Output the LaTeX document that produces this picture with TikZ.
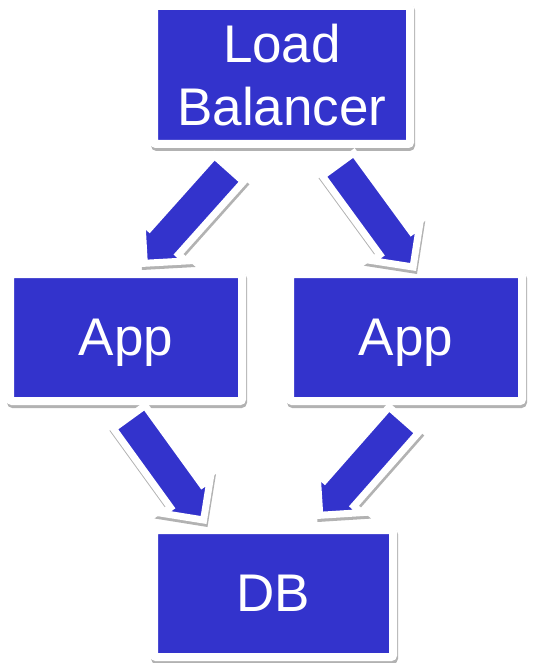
\documentclass[tikz,border=0pt]{standalone}
\usepackage{fontspec}
\setmainfont{Liberation Sans}
\usetikzlibrary{shapes.arrows,shadows}
\definecolor{boxblue}{RGB}{51,51,204}
\begin{document}
\begin{tikzpicture}
[x=1pt, y=1pt,
box/.style={rectangle, fill=boxblue, draw=white, line width=8pt, rounded corners=2pt, outer sep=0pt, inner sep=0pt, text=white, font=\fontsize{53}{63}\selectfont, text depth=0pt, align=center, drop shadow={shadow xshift=1pt, shadow yshift=-3pt, draw=black, opacity=0.3}},
fatarrow/.style={single arrow, fill=boxblue, draw=white, line width=7pt, inner xsep=0pt, inner ysep=16pt, single arrow head extend=10pt, minimum height=127pt, sloped, allow upside down, anchor=tip, pos=1, drop shadow={shadow xshift=1pt, shadow yshift=-3pt, draw=black, opacity=0.3}}]
\useasboundingbox (0,0) rectangle (537,-663);
\node [box, minimum width=256pt, minimum height=138pt] (lb) at (282,-75) {Load\\Balancer};
\node [box, minimum width=232pt, minimum height=127pt] (appl) at (126,-337.5) {App};
\node [box, minimum width=232pt, minimum height=127pt] (appr) at (406,-337.5) {App};
\node [box, minimum width=239pt, minimum height=127pt] (db) at (273.5,-593.5) {DB};
\path ([shift={(-57,-29)}]lb.south) -- ([shift={(15,7)}]appl.north) node [fatarrow] {};
\path ([shift={(58,-23)}]lb.south) -- ([shift={(10,3)}]appr.north) node [fatarrow] {};
\path ([shift={(6,-20)}]appl.south) -- ([shift={(-67,6)}]db.north) node [fatarrow] {};
\path ([shift={(-5,-22)}]appr.south) -- ([shift={(43,11)}]db.north) node [fatarrow] {};
\end{tikzpicture}
\end{document}
